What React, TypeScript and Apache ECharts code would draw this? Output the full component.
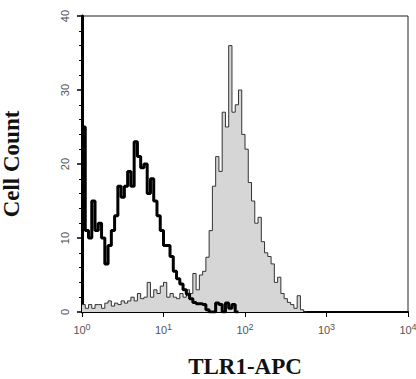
import React, { useEffect, useRef } from "react";
import * as echarts from "echarts";

// Histogram channels: 25 bins per decade, starting at 10^0
const binsPerDecade = 25;
const xMin = 1;
const xMax = 10000;
const yMin = 0;
const yMax = 40;
const yTicks = [0, 10, 20, 30, 40];

// Isotype control (black outline)
const isotypeCounts = [
  25, 11, 10, 15, 11, 12, 10, 6.5, 9, 11,
  13, 17, 15.5, 17, 19, 17, 23, 21, 19.5, 20,
  16, 18, 15, 13, 11, 9, 9, 7.5, 5.5, 4.5,
  3.8, 3, 2.4, 1.8, 1.3, 1.1, 1.1, 1, 0.3, 0,
  0, 1.2, 1, 0, 1.2, 0.5, 1, 0,
];

// TLR1-APC stained (gray filled)
const tlr1Counts = [
  1, 0.5, 1, 0.5, 1, 1, 0.5, 1.2, 1.5, 0.8,
  1.2, 1, 1.5, 1.2, 1.5, 2, 1.5, 2.5, 1.8, 2,
  4, 2, 3, 2.5, 3.5, 4, 2, 2.5, 2, 1.8,
  2.5, 2, 3, 2.5, 5.2, 3, 5, 5.5, 7.4, 11,
  17, 21, 19, 27, 25, 36, 27, 28, 30, 24,
  22, 17.5, 15, 12, 12.8, 9.5, 8, 7.5, 6.5, 4,
  4.7, 2.5, 1.8, 1.3, 1, 0.5, 2.2, 0.3, 0,
];

function toSteps(counts: number[]) {
  const pts: [number, number][] = counts.map((c, i) => [
    Math.pow(10, i / binsPerDecade),
    c,
  ]);
  pts.push([Math.pow(10, counts.length / binsPerDecade), 0]);
  return pts;
}

export default function App() {
  const ref = useRef<HTMLDivElement>(null);
  useEffect(() => {
    if (!ref.current) return;
    const chart = echarts.init(ref.current, undefined, { renderer: "svg" });
    chart.setOption({
      animation: false,
      backgroundColor: "#ffffff",
      grid: {
        left: 82,
        right: 8,
        top: 16,
        bottom: 67,
        show: true,
        borderColor: "#222",
        borderWidth: 1,
        containLabel: false,
        outerBoundsMode: "none",
      },
      xAxis: {
        type: "log",
        logBase: 10,
        min: xMin,
        max: xMax,
        name: "TLR1-APC",
        nameLocation: "middle",
        nameGap: 43,
        nameTextStyle: {
          fontFamily: "Liberation Serif",
          fontWeight: "bold",
          fontSize: 23,
          color: "#111",
        },
        axisLine: { show: true, onZero: false, lineStyle: { color: "#000", width: 2 } },
        axisTick: { show: true, length: 5, lineStyle: { color: "#000", width: 1 } },
        minorTick: { show: false },
        splitLine: { show: false },
        axisLabel: {
          margin: 10,
          formatter: (v: number) => `{b|10}{s|${Math.round(Math.log10(v))}}`,
          rich: {
            b: { fontFamily: "Liberation Sans", fontSize: 11, color: "#555" },
            s: { fontFamily: "Liberation Sans", fontSize: 9, color: "#555", padding: [0, 0, 7, 0] },
          },
        },
      },
      yAxis: {
        type: "value",
        min: yMin,
        max: yMax,
        interval: 10,
        name: "Cell Count",
        nameLocation: "middle",
        nameGap: 59,
        nameRotate: 90,
        nameTextStyle: {
          fontFamily: "Liberation Serif",
          fontWeight: "bold",
          fontSize: 23,
          color: "#111",
        },
        axisLine: { show: true, onZero: false, lineStyle: { color: "#000", width: 3 } },
        axisTick: { show: true, length: 5, lineStyle: { color: "#000", width: 1.5 } },
        minorTick: { show: true, splitNumber: 5, length: 3, lineStyle: { color: "#000", width: 1 } },
        splitLine: { show: false },
        axisLabel: {
          rotate: 90,
          margin: 12,
          fontFamily: "Liberation Sans",
          fontSize: 11,
          color: "#555",
          formatter: (v: number) => (yTicks.includes(v) ? String(v) : ""),
        },
      },
      series: [
        {
          type: "line",
          name: "TLR1",
          data: toSteps(tlr1Counts),
          step: "end",
          symbol: "none",
          lineStyle: { color: "#333", width: 1 },
          areaStyle: { color: "#d6d6d6", opacity: 1 },
          z: 2,
        },
        {
          type: "line",
          name: "Isotype",
          data: toSteps(isotypeCounts),
          step: "end",
          symbol: "none",
          lineStyle: { color: "#000", width: 3 },
          z: 3,
        },
      ],
    });
    return () => chart.dispose();
  }, []);
  return (
    <div
      ref={ref}
      style={{ position: "fixed", left: 0, top: 0, width: 416, height: 379 }}
    />
  );
}
